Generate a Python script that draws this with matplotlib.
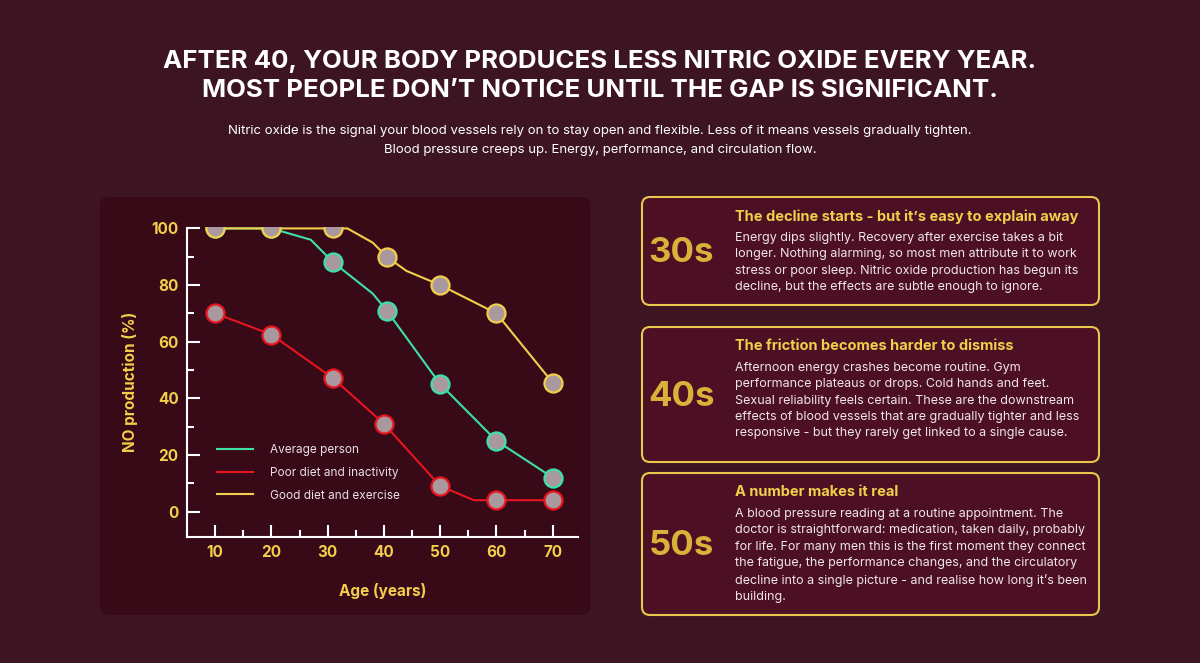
import matplotlib
matplotlib.use("Agg")
import matplotlib.pyplot as plt
from matplotlib.patches import FancyBboxPatch
from matplotlib.ticker import MultipleLocator

# data
avg_x = [10, 20, 27, 31, 38, 40.5, 50, 60, 70]
avg_y = [100, 100, 96, 88, 77, 71, 45, 25, 12]
avg_mx = [10, 20, 31, 40.5, 50, 60, 70]
avg_my = [100, 100, 88, 71, 45, 25, 12]
poor_x = [10, 20, 31, 40, 50, 56, 60, 70]
poor_y = [70, 62.5, 47, 31, 9, 4, 4, 4]
poor_mx = [10, 20, 31, 40, 50, 60, 70]
poor_my = [70, 62.5, 47, 31, 9, 4, 4]
good_x = [10, 20, 31, 33.5, 38, 40.5, 44, 50, 60, 70]
good_y = [100, 100, 100, 100, 95, 90, 85, 80, 70, 45.5]
good_mx = [10, 20, 31, 40.5, 50, 60, 70]
good_my = [100, 100, 100, 90, 80, 70, 45.5]
xticks = [10, 20, 30, 40, 50, 60, 70]
yticks = [0, 20, 40, 60, 80, 100]

title = "AFTER 40, YOUR BODY PRODUCES LESS NITRIC OXIDE EVERY YEAR.\nMOST PEOPLE DON’T NOTICE UNTIL THE GAP IS SIGNIFICANT."
subtitle = ("Nitric oxide is the signal your blood vessels rely on to stay open and flexible. Less of it means vessels gradually tighten.\n"
            "Blood pressure creeps up. Energy, performance, and circulation flow.")
cards = [
    ("30s", "The decline starts - but it’s easy to explain away",
     "Energy dips slightly. Recovery after exercise takes a bit\nlonger. Nothing alarming, so most men attribute it to work\nstress or poor sleep. Nitric oxide production has begun its\ndecline, but the effects are subtle enough to ignore."),
    ("40s", "The friction becomes harder to dismiss",
     "Afternoon energy crashes become routine. Gym\nperformance plateaus or drops. Cold hands and feet.\nSexual reliability feels certain. These are the downstream\neffects of blood vessels that are gradually tighter and less\nresponsive - but they rarely get linked to a single cause."),
    ("50s", "A number makes it real",
     "A blood pressure reading at a routine appointment. The\ndoctor is straightforward: medication, taken daily, probably\nfor life. For many men this is the first moment they connect\nthe fatigue, the performance changes, and the circulatory\ndecline into a single picture - and realise how long it’s been\nbuilding."),
]

W, H = 1200, 663
fig = plt.figure(figsize=(12, 6.63), dpi=100)
fig.patch.set_facecolor("#3d1422")
bg = fig.add_axes([0, 0, 1, 1]); bg.set_xlim(0, W); bg.set_ylim(H, 0); bg.axis("off")

YEL = "#f2cf4a"
bg.text(600, 50, title, ha="center", va="top", color="white", fontsize=18.6, fontweight="bold",
        family="Inter", linespacing=1.35)
bg.text(600, 125, subtitle, ha="center", va="top", color="white", fontsize=9.5, family="Inter", linespacing=1.75)

bg.add_patch(FancyBboxPatch((100, 197), 490, 418, boxstyle="round,pad=0,rounding_size=8",
                            fc="#380a18", ec="none"))
boxes = [(197, 108), (327, 135), (473, 142)]
for (y0, h), (age, head, body) in zip(boxes, cards):
    bg.add_patch(FancyBboxPatch((642, y0), 457, h, boxstyle="round,pad=0,rounding_size=8",
                                fc="#4c0f24", ec="#e9c64c", lw=1.5))
    bg.text(681, y0 + h/2 + 2, age, ha="center", va="center", color="#d9b23a", fontsize=25,
            fontweight="bold", family="Inter")
    bg.text(735, y0 + 12, head, ha="left", va="top", color=YEL, fontsize=10.5, fontweight="bold", family="Inter")
    bg.text(735, y0 + 35, body, ha="left", va="top", color="#f0e6e8", fontsize=9.0, family="Inter", linespacing=1.48)

# chart axes: x 5..74 -> px 187..578 ; y -9..100 -> px 537..227
ax = fig.add_axes([187/W, 1-537/H, (578-187)/W, (537-227)/H])
ax.set_facecolor("none")
ax.set_xlim(5, 74.5); ax.set_ylim(-9, 100.5)
for s in ["top", "right"]:
    ax.spines[s].set_visible(False)
for s in ["left", "bottom"]:
    ax.spines[s].set_color("white"); ax.spines[s].set_linewidth(1.5)
ax.spines["left"].set_bounds(-9, 100)
ax.set_xticks(xticks); ax.set_yticks(yticks)
ax.xaxis.set_minor_locator(MultipleLocator(5)); ax.yaxis.set_minor_locator(MultipleLocator(10))
ax.tick_params(which="both", colors="white", width=1.5, direction="in", labelcolor=YEL, labelsize=11)
ax.tick_params(which="major", length=9, pad=6)
ax.tick_params(which="minor", length=5)
for lab in ax.get_xticklabels() + ax.get_yticklabels():
    lab.set_fontweight("bold"); lab.set_family("Inter")
ax.set_xlabel("Age (years)", color=YEL, fontsize=11, fontweight="bold", family="Inter", labelpad=16)
ax.set_ylabel("NO production (%)", color=YEL, fontsize=11, fontweight="bold", family="Inter", labelpad=10)

series = [("Average person", "#3ee0a8", avg_x, avg_y, avg_mx, avg_my),
          ("Poor diet and inactivity", "#e8141e", poor_x, poor_y, poor_mx, poor_my),
          ("Good diet and exercise", "#f2cf4a", good_x, good_y, good_mx, good_my)]
handles = []
for name, c, x, y, mx, my in series:
    h, = ax.plot(x, y, color=c, lw=1.5, label=name, zorder=2)
    ax.plot(mx, my, "o", ms=13, mfc="#a9999f", mec=c, mew=1.6, zorder=3, linestyle="none")
    handles.append(h)
leg = ax.legend(handles=handles, loc="lower left", bbox_to_anchor=(0.05, 0.08), frameon=False,
                labelcolor="#e8e0e2", prop={"family": "Inter", "size": 8.5}, handlelength=3.0,
                handletextpad=1.5, labelspacing=0.9)

fig.savefig("out.png", dpi=100, facecolor=fig.get_facecolor())
